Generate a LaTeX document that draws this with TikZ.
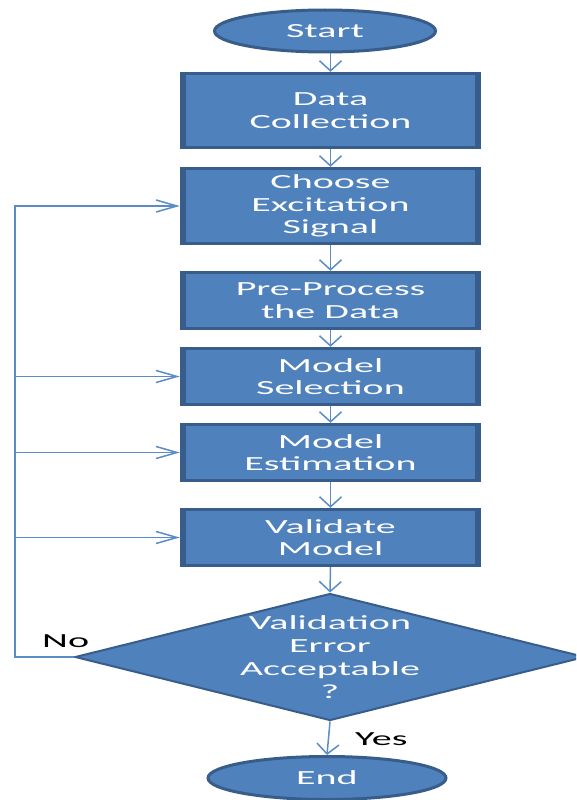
\documentclass[tikz,border=0pt]{standalone}
\usepackage{fontspec}
\setmainfont{Carlito}[FakeStretch=2.0]
\usetikzlibrary{shapes.geometric,arrows.meta}
\definecolor{boxfill}{HTML}{4F81BD}
\definecolor{boxedge}{HTML}{385D8A}
\definecolor{linkblue}{HTML}{5B8CC8}

\begin{document}
\begin{tikzpicture}[x=1pt,y=-1pt,
  boxfont/.style={font=\fontsize{20}{22.5}\selectfont},
  stepbox/.style={rectangle, fill=boxedge, minimum width=301pt, inner sep=0pt,
    text=white, align=center, boxfont,
    path picture={\fill[boxfill]
      ([xshift=6pt,yshift=3pt]path picture bounding box.south west) rectangle
      ([xshift=-6pt,yshift=-3pt]path picture bounding box.north east);}},
  terminal/.style={ellipse, fill=boxfill, draw=boxedge, line width=3pt,
    inner sep=0pt, text=white, boxfont},
  link/.style={draw=linkblue, line width=1.5pt},
  vflow/.style={link, -{Straight Barb[length=10pt,width=22pt]}},
  hflow/.style={link, -{Straight Barb[length=21pt,width=12pt]}},
  answer/.style={text=black, inner sep=0pt, font=\fontsize{20}{22}\selectfont}]

\useasboundingbox (0,0) rectangle (576,800);
\clip (0,0) rectangle (576,800);

% terminals
\node[terminal, minimum width=221pt, minimum height=42pt] (start) at (325,31) {Start};
\node[terminal, minimum width=238pt, minimum height=43pt] (end) at (327,778) {End};

% process steps
\node[stepbox, minimum height=77pt] (data)   at (330.5,110.5) {Data\\Collection};
\node[stepbox, minimum height=78pt] (choose) at (330.5,206)   {Choose\\Excitation\\Signal};
\node[stepbox, minimum height=59pt] (pre)    at (330.5,300.5) {Pre-Process\\the Data};
\node[stepbox, minimum height=59pt] (sel)    at (330.5,376.5) {Model\\Selection};
\node[stepbox, minimum height=59pt] (est)    at (330.5,452.5) {Model\\Estimation};
\node[stepbox, minimum height=59pt] (val)    at (330.5,537.5) {Validate\\Model};

% decision
\node[diamond, fill=boxfill, draw=boxedge, line width=2pt, aspect=4,
      minimum width=510pt, minimum height=127pt, inner sep=0pt] (dec) at (330,657) {};
\node[text=white, align=center, inner sep=0pt, font=\fontsize{20}{23}\selectfont]
      (dectext) at (dec.center) {Validation\\Error\\Acceptable\\?};

% main flow
\draw[vflow] (start.south -| data.north) -- (data.north);
\draw[vflow] (data.south) -- (choose.north);
\draw[vflow] (choose.south) -- (pre.north);
\draw[vflow] (pre.south) -- (sel.north);
\draw[vflow] (sel.south) -- (est.north);
\draw[vflow] (est.south) -- (val.north);
\draw[vflow] (val.south) -- (dec.north);
\draw[vflow] (dec.south) -- (end.north);

% feedback loop on the left
\coordinate (fbot) at (15,657);
\draw[hflow] (dec.west) -- (fbot) -- (fbot |- choose.west) -- (choose.west);
\draw[hflow] (fbot |- sel.west) -- (sel.west);
\draw[hflow] (fbot |- est.west) -- (est.west);
\draw[hflow] (fbot |- val.west) -- (val.west);

% answers
\node[answer, anchor=base west] (no)  at (42,647)  {No};
\node[answer, anchor=base west] (yes) at (355,745) {Yes};

\end{tikzpicture}
\end{document}
